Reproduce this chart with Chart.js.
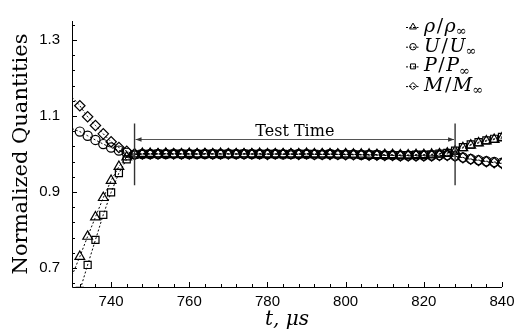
<!DOCTYPE html>
<html>
<head>
<meta charset="utf-8">
<script src="https://cdn.jsdelivr.net/npm/chart.js@4.4.0/dist/chart.umd.min.js"></script>
<style>
html, body { margin: 0; padding: 0; background: #fff; }
</style>
</head>
<body>
<canvas id="c" width="522" height="331"></canvas>
<script>
// time, microseconds
const times = [730, 732, 734, 736, 738, 740, 742, 744, 746, 748,
  750, 752, 754, 756, 758, 760, 762, 764, 766, 768,
  770, 772, 774, 776, 778, 780, 782, 784, 786, 788,
  790, 792, 794, 796, 798, 800, 802, 804, 806, 808,
  810, 812, 814, 816, 818, 820, 822, 824, 826, 828,
  830, 832, 834, 836, 838, 840];

const rhoRatio = [0.680, 0.730, 0.783, 0.834, 0.885, 0.930, 0.967, 0.992, 1.000, 1.001,
  1.001, 1.000, 1.001, 1.000, 1.000, 1.001, 1.000, 1.000, 1.000, 1.001,
  1.000, 1.000, 1.000, 1.000, 1.001, 1.000, 1.000, 1.000, 1.000, 1.000,
  1.001, 1.000, 1.000, 1.000, 0.999, 1.000, 0.999, 0.999, 0.999, 0.998,
  0.998, 0.998, 0.997, 0.997, 0.998, 0.998, 0.999, 1.000, 1.002, 1.007,
  1.016, 1.023, 1.029, 1.034, 1.038, 1.042];

const uRatio = [1.067, 1.059, 1.048, 1.037, 1.026, 1.017, 1.009, 1.003, 0.999, 1.000,
  1.000, 1.000, 1.000, 1.001, 1.000, 1.000, 1.000, 1.000, 1.000, 1.000,
  1.001, 1.000, 1.000, 1.000, 1.000, 1.000, 1.000, 0.999, 1.000, 1.000,
  1.000, 0.999, 0.999, 1.000, 0.999, 0.999, 0.999, 0.998, 0.998, 0.998,
  0.997, 0.997, 0.996, 0.996, 0.996, 0.996, 0.996, 0.997, 0.997, 0.995,
  0.991, 0.987, 0.984, 0.981, 0.979, 0.977];

const pRatio = [0.575, 0.640, 0.708, 0.774, 0.840, 0.899, 0.950, 0.986, 0.998, 1.000,
  1.000, 1.001, 1.000, 1.000, 1.001, 1.000, 1.000, 1.000, 1.001, 1.000,
  1.000, 1.000, 1.001, 1.000, 1.000, 1.000, 1.000, 1.000, 0.999, 1.000,
  1.000, 1.000, 0.999, 1.000, 0.999, 0.999, 0.999, 0.998, 0.998, 0.998,
  0.997, 0.997, 0.997, 0.997, 0.998, 0.998, 0.999, 1.001, 1.003, 1.009,
  1.018, 1.025, 1.031, 1.036, 1.040, 1.045];

const machRatio = [1.150, 1.127, 1.098, 1.075, 1.053, 1.032, 1.017, 1.007, 0.999, 1.000,
  1.000, 1.000, 1.001, 1.000, 1.000, 1.000, 1.000, 1.001, 1.000, 1.000,
  1.000, 1.000, 1.000, 1.000, 1.000, 0.999, 1.000, 1.000, 1.000, 0.999,
  1.000, 0.999, 0.999, 0.999, 0.999, 0.998, 0.998, 0.998, 0.997, 0.997,
  0.996, 0.996, 0.995, 0.995, 0.995, 0.995, 0.995, 0.996, 0.996, 0.994,
  0.990, 0.986, 0.983, 0.980, 0.977, 0.975];

const legendSymbols = ['ρ', 'U', 'P', 'M'];
const xTickLabels = [740, 760, 780, 800, 820, 840];
const yTickLabels = [0.7, 0.9, 1.1, 1.3];
const testStart = 746, testEnd = 828;
const testLabel = 'Test Time';

const markers = ['triangle', 'circle', 'rect', 'rectRot'];
const markerRadius = [5.6, 4.6, 5, 5.2];
const serif = '"DejaVu Serif"';

// minor ticks: every 4 us on x, every 0.04 on y
const xTicks = [];
for (let v = 732; v <= 840; v += 4) xTicks.push(v);
const yTicks = [];
for (let k = 0; k <= 17; k++) yTicks.push(Math.round((0.66 + 0.04 * k) * 100) / 100);

const isYLabel = v => yTickLabels.some(l => Math.abs(l - v) < 1e-6);

const series = [rhoRatio, uRatio, pRatio, machRatio];

const datasets = series.map((vals, i) => ({
  label: legendSymbols[i],
  data: times.map((t, j) => ({ x: t, y: vals[j] })),
  borderColor: '#000',
  borderWidth: 1,
  borderDash: [2, 2],
  pointStyle: markers[i],
  pointRadius: c => c.dataIndex === 0 ? 0 : markerRadius[i],
  pointBorderColor: '#000',
  pointBackgroundColor: 'rgba(0,0,0,0)',
  pointBorderWidth: 1.2,
  tension: 0
}));

const extras = {
  id: 'extras',
  afterDatasetsDraw(chart) {
    const { ctx, chartArea: a, scales: { x, y } } = chart;
    ctx.save();

    // axes with inward ticks
    ctx.strokeStyle = '#000';
    ctx.lineWidth = 1;
    ctx.beginPath();
    ctx.moveTo(a.left + 0.5, a.top);
    ctx.lineTo(a.left + 0.5, a.bottom + 0.5);
    ctx.lineTo(a.right, a.bottom + 0.5);
    xTicks.forEach(v => {
      const px = Math.round(x.getPixelForValue(v)) + 0.5;
      const len = xTickLabels.includes(v) ? 5 : 3;
      ctx.moveTo(px, a.bottom);
      ctx.lineTo(px, a.bottom - len);
    });
    yTicks.forEach(v => {
      const py = Math.round(y.getPixelForValue(v)) + 0.5;
      const len = isYLabel(v) ? 5 : 3;
      ctx.moveTo(a.left, py);
      ctx.lineTo(a.left + len, py);
    });
    ctx.stroke();

    // test time markers
    const xs = x.getPixelForValue(testStart);
    const xe = x.getPixelForValue(testEnd);
    const yTop = y.getPixelForValue(1.08);
    const yBot = y.getPixelForValue(0.918);
    const ya = Math.round(y.getPixelForValue(1.04)) + 0.5;
    ctx.strokeStyle = '#333';
    ctx.lineWidth = 1.4;
    ctx.beginPath();
    ctx.moveTo(xs, yTop); ctx.lineTo(xs, yBot);
    ctx.moveTo(xe, yTop); ctx.lineTo(xe, yBot);
    ctx.stroke();
    ctx.strokeStyle = '#555';
    ctx.lineWidth = 1;
    ctx.beginPath();
    ctx.moveTo(xs + 1, ya); ctx.lineTo(xe - 1, ya);
    ctx.stroke();
    ctx.fillStyle = '#333';
    ctx.beginPath();
    ctx.moveTo(xs + 1, ya); ctx.lineTo(xs + 7, ya - 2.2); ctx.lineTo(xs + 7, ya + 2.2); ctx.closePath();
    ctx.moveTo(xe - 1, ya); ctx.lineTo(xe - 7, ya - 2.2); ctx.lineTo(xe - 7, ya + 2.2); ctx.closePath();
    ctx.fill();
    ctx.fillStyle = '#000';
    ctx.font = '16px ' + serif;
    ctx.textAlign = 'center';
    ctx.textBaseline = 'alphabetic';
    ctx.fillText(testLabel, (xs + xe) / 2, ya - 4);

    // legend
    const lx = 413, ly0 = 27, gap = 19.7;
    chart.data.datasets.forEach((ds, i) => {
      const ly = ly0 + i * gap;
      ctx.strokeStyle = '#000';
      ctx.lineWidth = 1;
      ctx.setLineDash([2, 1.5]);
      ctx.beginPath();
      ctx.moveTo(lx - 7, ly + 0.5); ctx.lineTo(lx + 7, ly + 0.5);
      ctx.stroke();
      ctx.setLineDash([]);
      ctx.fillStyle = 'rgba(0,0,0,0)';
      Chart.helpers.drawPoint(ctx, { pointStyle: markers[i], radius: markerRadius[i] * 0.7, borderWidth: 1, rotation: 0 }, lx, ly);
      ctx.fillStyle = '#000';
      ctx.textAlign = 'left';
      ctx.textBaseline = 'middle';
      const sym = legendSymbols[i];
      let tx = 424;
      ctx.font = 'italic 19px ' + serif;
      ctx.fillText(sym, tx, ly);
      tx += ctx.measureText(sym).width + 1.5;
      ctx.font = '19px ' + serif;
      ctx.fillText('/', tx, ly);
      tx += ctx.measureText('/').width + 1.5;
      ctx.font = 'italic 19px ' + serif;
      ctx.fillText(sym, tx, ly);
      tx += ctx.measureText(sym).width;
      ctx.font = '13px ' + serif;
      ctx.fillText('∞', tx, ly + 5);
    });
    ctx.restore();
  }
};

new Chart(document.getElementById('c').getContext('2d'), {
  type: 'line',
  data: { datasets },
  options: {
    responsive: false,
    devicePixelRatio: 1,
    animation: false,
    layout: { padding: { top: 11, right: 20, left: 0, bottom: 0 } },
    plugins: { legend: { display: false }, tooltip: { enabled: false } },
    scales: {
      x: {
        type: 'linear',
        min: 730,
        max: 840,
        afterBuildTicks: s => { s.ticks = xTicks.map(v => ({ value: v })); },
        afterFit: s => { s.height = 44; },
        grid: { display: false, drawTicks: false },
        border: { display: false },
        ticks: {
          autoSkip: false,
          maxRotation: 0,
          padding: 6,
          color: '#000',
          font: { family: '"Liberation Sans"', size: 15 },
          callback: v => xTickLabels.includes(v) ? String(v) : ''
        },
        title: {
          display: true,
          text: 't, μs',
          color: '#000',
          font: { family: serif, size: 20, style: 'italic', lineHeight: 1 },
          padding: { top: 0, bottom: 1 }
        }
      },
      y: {
        type: 'linear',
        min: 0.65,
        max: 1.35,
        afterBuildTicks: s => { s.ticks = yTicks.map(v => ({ value: v })); },
        afterFit: s => { s.width = 72; },
        grid: { display: false, drawTicks: false },
        border: { display: false },
        ticks: {
          autoSkip: false,
          padding: 12,
          color: '#000',
          font: { family: '"Liberation Sans"', size: 15 },
          callback: v => isYLabel(v) ? v.toFixed(1) : ''
        },
        title: {
          display: true,
          text: 'Normalized Quantities',
          color: '#000',
          font: { family: serif, size: 21, lineHeight: 1 },
          padding: { top: 11, bottom: 0 }
        }
      }
    }
  },
  plugins: [extras]
});
</script>
</body>
</html>
